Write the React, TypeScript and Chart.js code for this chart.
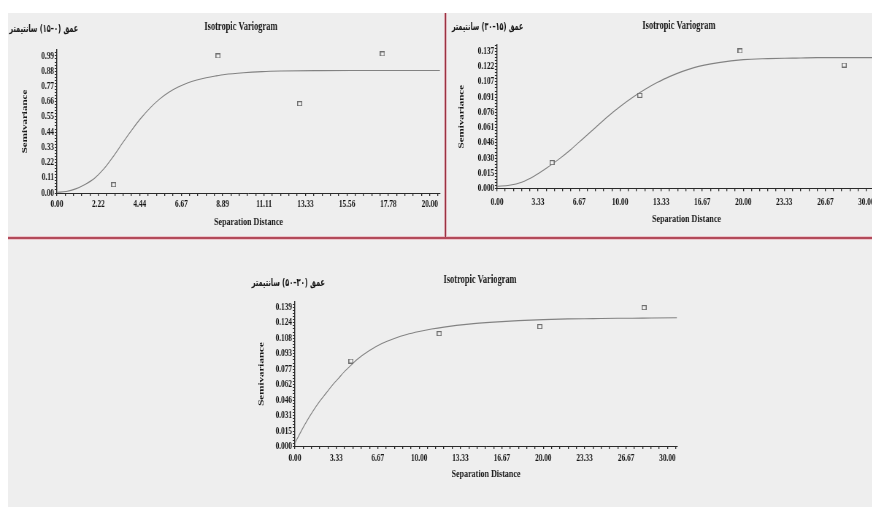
import React, { useEffect, useRef } from "react";
import { Chart, registerables } from "chart.js";

Chart.register(...registerables);

// ---------------- Data ----------------
const chartTitle = "Isotropic Variogram";
const xAxisTitle = "Separation Distance";
const yAxisTitle = "Semivariance";

// Panel 1 : depth 0–15 cm
const depthLabel1 = "عمق (۰–۱۵) سانتیمتر";
const lagDist1 = [3.04, 8.64, 13.02, 17.46];
const semivar1 = [0.06, 0.99, 0.645, 1.005];
const modelDist1 = [0, 0.5, 1, 1.5, 2, 2.5, 3, 3.5, 4, 4.5, 5, 5.5, 6, 6.5, 7, 7.5, 8, 8.5, 9, 10, 11, 12, 14, 16, 18, 20.55];
const modelVal1 = [0.005, 0.011, 0.03, 0.062, 0.105, 0.172, 0.26, 0.358, 0.453, 0.54, 0.615, 0.678, 0.728, 0.766, 0.795, 0.816, 0.832, 0.845, 0.856, 0.869, 0.877, 0.881, 0.884, 0.885, 0.885, 0.885];
const distTicks1 = [0, 2.22, 4.44, 6.67, 8.89, 11.11, 13.33, 15.56, 17.78, 20];
const semiTicks1 = [0, 0.11, 0.22, 0.33, 0.44, 0.55, 0.66, 0.77, 0.88, 0.99];

// Panel 2 : depth 15–30 cm
const depthLabel2 = "عمق (۱۵–۳۰) سانتیمتر";
const lagDist2 = [4.47, 11.6, 19.75, 28.2];
const semivar2 = [0.0257, 0.0932, 0.1377, 0.1236];
const modelDist2 = [0, 1, 2, 3, 4, 5, 6, 7, 8, 9, 10, 11, 12, 13, 14, 16, 18, 20, 22, 24, 26, 28, 30.78];
const modelVal2 = [0.002, 0.003, 0.006, 0.012, 0.02, 0.029, 0.039, 0.05, 0.061, 0.072, 0.082, 0.091, 0.099, 0.106, 0.112, 0.121, 0.126, 0.129, 0.13, 0.1305, 0.131, 0.131, 0.131];
const distTicks2 = [0, 3.33, 6.67, 10, 13.33, 16.67, 20, 23.33, 26.67, 30];
const semiTicks2 = [0, 0.015, 0.03, 0.046, 0.061, 0.076, 0.091, 0.107, 0.122, 0.137];

// Panel 3 : depth 30–50 cm
const depthLabel3 = "عمق (۳۰–۵۰) سانتیمتر";
const lagDist3 = [4.51, 11.62, 19.72, 28.12];
const semivar3 = [0.0854, 0.1129, 0.1199, 0.139];
const modelDist3 = [0, 0.5, 1, 1.5, 2, 2.5, 3, 3.5, 4, 4.5, 5, 6, 7, 8, 9, 10, 11, 12, 14, 16, 18, 20, 22, 24, 26, 28, 30.77];
const modelVal3 = [0.003, 0.015, 0.026, 0.036, 0.045, 0.053, 0.061, 0.068, 0.075, 0.081, 0.087, 0.096, 0.103, 0.108, 0.112, 0.115, 0.1175, 0.1195, 0.1225, 0.1245, 0.126, 0.127, 0.1277, 0.128, 0.1283, 0.1285, 0.1288];
const distTicks3 = [0, 3.33, 6.67, 10, 13.33, 16.67, 20, 23.33, 26.67, 30];
const semiTicks3 = [0, 0.015, 0.031, 0.046, 0.062, 0.077, 0.093, 0.108, 0.124, 0.139];

// ---------------- Layout / style ----------------
const SQUASH = 0.73;
const TXT = "#161616";
const AX = "#2a2a2a";
const SERIF = '"Liberation Serif", "Times New Roman", serif';

type PanelSpec = {
  left: number; top: number; width: number; height: number;
  pad: { left: number; right: number; top: number; bottom: number };
  yAxisW: number; xAxisH: number; xLabelPad: number;
  titleX: number; titleY: number; depthX: number; depthY: number; depthW: number;
  depth: string; lags: number[]; semis: number[]; mx: number[]; my: number[];
  xTicks: number[]; yTicks: number[]; yDec: number; xMax: number; yMax: number;
};

const panels: PanelSpec[] = [
  {
    left: 8, top: 13, width: 437, height: 225,
    pad: { left: 16.7, right: 7.2, top: 37, bottom: 8.9 },
    yAxisW: 50.4, xAxisH: 36.1, xLabelPad: 2,
    titleX: 319, titleY: 14.2, depthX: 96.3, depthY: 16, depthW: 94.5,
    depth: depthLabel1, lags: lagDist1, semis: semivar1, mx: modelDist1, my: modelVal1,
    xTicks: distTicks1, yTicks: semiTicks1, yDec: 2, xMax: 20.55, yMax: 1.033,
  },
  {
    left: 446, top: 13, width: 440, height: 225,
    pad: { left: 14.9, right: 14, top: 32, bottom: 12.1 },
    yAxisW: 55, xAxisH: 37.6, xLabelPad: 5,
    titleX: 319, titleY: 12.8, depthX: 105.9, depthY: 14.2, depthW: 98,
    depth: depthLabel2, lags: lagDist2, semis: semivar2, mx: modelDist2, my: modelVal2,
    xTicks: distTicks2, yTicks: semiTicks2, yDec: 3, xMax: 30.78, yMax: 0.1437,
  },
  {
    left: 200, top: 240, width: 500, height: 267,
    pad: { left: 77.9, right: 31.6, top: 62, bottom: 26.1 },
    yAxisW: 52.2, xAxisH: 34.9, xLabelPad: 3,
    titleX: 383.6, titleY: 40.5, depthX: 171.2, depthY: 42.8, depthW: 100.4,
    depth: depthLabel3, lags: lagDist3, semis: semivar3, mx: modelDist3, my: modelVal3,
    xTicks: distTicks3, yTicks: semiTicks3, yDec: 3, xMax: 30.77, yMax: 0.1447,
  },
];

function withMinor(majors: number[], n: number, max: number): number[] {
  const out: number[] = [];
  const step = majors[1] - majors[0];
  for (let i = 0; i < majors.length; i++) {
    out.push(majors[i]);
    const next = i + 1 < majors.length ? majors[i + 1] : majors[i] + step;
    for (let j = 1; j < n; j++) {
      const v = majors[i] + ((next - majors[i]) * j) / n;
      if (v <= max) out.push(v);
    }
  }
  return out;
}

function makeSquare(): HTMLCanvasElement {
  const h = 5;
  const w = Math.round(h / SQUASH);
  const c = document.createElement("canvas");
  c.width = w;
  c.height = h;
  const g = c.getContext("2d")!;
  g.fillStyle = "#f2f2f2";
  g.fillRect(0, 0, w, h);
  g.fillStyle = "#6f6f6f";
  g.fillRect(0, 0, w, 1);
  g.fillRect(0, h - 1, w, 1);
  g.fillRect(0, 0, 1.4, h);
  g.fillRect(w - 1.4, 0, 1.4, h);
  return c;
}

const textPlugin = {
  id: "panelText",
  afterDraw(chart: any, _args: any, opts: any) {
    const { ctx } = chart;
    ctx.save();
    ctx.fillStyle = TXT;
    ctx.textBaseline = "middle";
    ctx.font = `bold 11.5px ${SERIF}`;
    ctx.textAlign = "center";
    ctx.fillText(opts.title, opts.titleX, opts.titleY);
    ctx.restore();

    ctx.save();
    ctx.fillStyle = TXT;
    ctx.textBaseline = "middle";
    ctx.direction = "rtl";
    ctx.textAlign = "right";
    ctx.font = 'bold 11px "DejaVu Sans", sans-serif';
    const m = ctx.measureText(opts.depth).width;
    const sx = m > opts.depthW ? opts.depthW / m : 1;
    ctx.translate(opts.depthX, opts.depthY);
    ctx.scale(sx, 1);
    ctx.fillText(opts.depth, 0, 0);
    ctx.restore();
  },
};

function buildConfig(spec: PanelSpec, square: HTMLCanvasElement): any {
  const tickFont = { family: SERIF, weight: "bold", size: 10 };
  const titleFont = { family: SERIF, weight: "bold", size: 11 };
  return {
    type: "line",
    data: {
      datasets: [
        {
          label: "experimental",
          data: spec.lags.map((x, i) => ({ x, y: spec.semis[i] })),
          showLine: false,
          pointStyle: square,
          pointRadius: 3,
          order: 1,
        },
        {
          label: "model",
          data: spec.mx.map((x, i) => ({ x, y: spec.my[i] })),
          borderColor: "#828282",
          borderWidth: 1.1,
          pointRadius: 0,
          cubicInterpolationMode: "monotone",
          fill: false,
          order: 2,
        },
      ],
    },
    options: {
      responsive: false,
      animation: false,
      devicePixelRatio: 1,
      events: [],
      layout: { padding: spec.pad },
      plugins: {
        legend: { display: false },
        tooltip: { enabled: false },
        panelText: {
          title: chartTitle,
          titleX: spec.titleX,
          titleY: spec.titleY,
          depth: spec.depth,
          depthX: spec.depthX,
          depthY: spec.depthY,
          depthW: spec.depthW,
        },
      },
      scales: {
        x: {
          type: "linear",
          min: 0,
          max: spec.xMax,
          afterBuildTicks: (s: any) => {
            s.ticks = withMinor(spec.xTicks, 5, spec.xMax).map((v) => ({ value: v }));
          },
          afterFit: (s: any) => {
            s.height = spec.xAxisH;
          },
          ticks: {
            autoSkip: false,
            maxRotation: 0,
            minRotation: 0,
            padding: spec.xLabelPad,
            color: TXT,
            font: tickFont,
            callback: (v: number) => {
              const i = spec.xTicks.indexOf(v);
              return i >= 0 ? spec.xTicks[i].toFixed(2) : "";
            },
          },
          grid: { display: true, drawOnChartArea: false, drawTicks: true, tickLength: 3, color: AX, lineWidth: 1.3 },
          border: { display: true, color: AX, width: 1 },
          title: { display: true, text: xAxisTitle, color: TXT, font: titleFont, padding: 0 },
        },
        y: {
          type: "linear",
          min: 0,
          max: spec.yMax,
          afterBuildTicks: (s: any) => {
            s.ticks = withMinor(spec.yTicks, 5, spec.yMax).map((v) => ({ value: v }));
          },
          afterFit: (s: any) => {
            s.width = spec.yAxisW;
          },
          ticks: {
            autoSkip: false,
            padding: 1,
            color: TXT,
            font: tickFont,
            callback: (v: number) => {
              const i = spec.yTicks.indexOf(v);
              return i >= 0 ? spec.yTicks[i].toFixed(spec.yDec) : "";
            },
          },
          grid: { display: true, drawOnChartArea: false, drawTicks: true, tickLength: 3, color: AX, lineWidth: 1 },
          border: { display: true, color: AX, width: 1.4 },
          title: { display: true, text: yAxisTitle, color: TXT, font: titleFont, padding: 0 },
        },
      },
    },
    plugins: [textPlugin],
  };
}

function Panel({ spec }: { spec: PanelSpec }) {
  const ref = useRef<HTMLCanvasElement>(null);
  const lw = Math.round(spec.width / SQUASH);
  useEffect(() => {
    const chart = new Chart(ref.current as HTMLCanvasElement, buildConfig(spec, makeSquare()));
    return () => chart.destroy();
  }, []);
  return (
    <canvas
      ref={ref}
      width={lw}
      height={spec.height}
      style={{
        position: "absolute",
        left: spec.left,
        top: spec.top,
        width: lw,
        height: spec.height,
        transform: `scaleX(${SQUASH})`,
        transformOrigin: "0 0",
      }}
    />
  );
}

export default function App() {
  return (
    <div style={{ position: "absolute", left: 0, top: 0, width: 872, height: 507, overflow: "hidden", background: "#ffffff" }}>
      <div style={{ position: "absolute", left: 8, top: 13, width: 864, height: 494, background: "#eeeeee" }} />
      {panels.map((p, i) => (
        <Panel key={i} spec={p} />
      ))}
      <div style={{ position: "absolute", left: 8, top: 236, width: 864, height: 1, background: "#ecc4ca" }} />
      <div style={{ position: "absolute", left: 8, top: 237, width: 864, height: 2, background: "#b24a5a" }} />
      <div style={{ position: "absolute", left: 8, top: 239, width: 864, height: 1, background: "#ecc4ca" }} />
      <div style={{ position: "absolute", left: 444, top: 13, width: 1, height: 224, background: "#dcaab2" }} />
      <div style={{ position: "absolute", left: 445, top: 13, width: 1, height: 224, background: "#9a3242" }} />
      <div style={{ position: "absolute", left: 446, top: 13, width: 1, height: 224, background: "#e2b8bf" }} />
    </div>
  );
}
